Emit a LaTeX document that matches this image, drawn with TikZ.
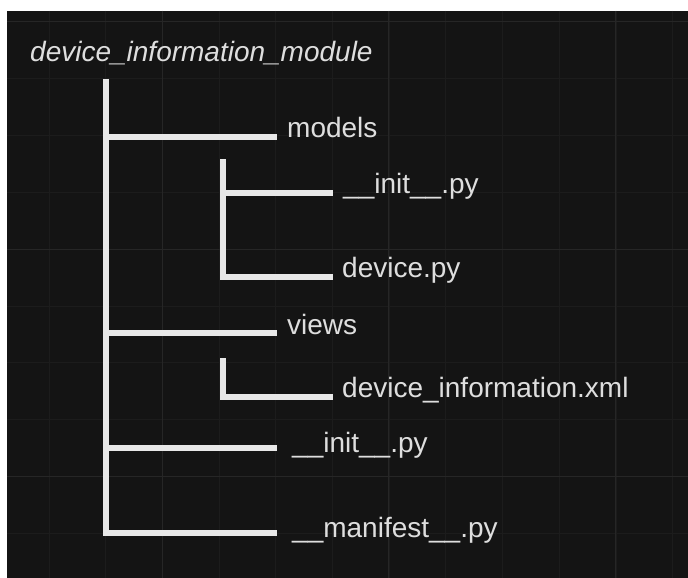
\documentclass[tikz,border=0pt]{standalone}
\usepackage{fontspec}
\setmainfont{Liberation Sans}
\definecolor{bgdark}{HTML}{141414}
\definecolor{gridminor}{HTML}{1C1C1C}
\definecolor{gridmajor}{HTML}{262626}
\definecolor{linecol}{HTML}{E8E8E8}
\definecolor{textcol}{HTML}{DEDEDE}
\tikzset{
  branch/.style={draw=linecol, line width=6pt, line cap=butt, line join=miter},
  label/.style={anchor=base west, inner sep=0pt, text=textcol, font=\fontsize{28}{32}\selectfont},
}
\begin{document}
\begin{tikzpicture}[x=1pt,y=-1pt]
\useasboundingbox (0,0) rectangle (688,578);
\fill[white] (0,0) rectangle (688,578);
\fill[bgdark] (7,11) rectangle (688,578);
\begin{scope}
\clip (7,11) rectangle (688,578);
\foreach \k in {0,...,11} {
  \pgfmathsetmacro{\gx}{49+56.7*\k}
  \draw[gridminor, line width=1pt] (\gx,11) -- (\gx,578);
}
\foreach \k in {0,...,9} {
  \pgfmathsetmacro{\gy}{22+56.8*\k}
  \draw[gridminor, line width=1pt] (7,\gy) -- (688,\gy);
}
\foreach \gx in {162,388.7,615.5} \draw[gridmajor, line width=1pt] (\gx,11) -- (\gx,578);
\foreach \gy in {22,249.2,476.4} \draw[gridmajor, line width=1pt] (7,\gy) -- (688,\gy);
\end{scope}

% texts
\node[label, font=\fontsize{28}{32}\selectfont\itshape] (root) at (30,62) {device\_information\_module};
\node[label] (models) at (287,137) {models};
\node[label] (minit) at (343,193) {\_\_init\_\_.py};
\node[label] (device) at (342,277) {device.py};
\node[label] (views) at (287,334) {views};
\node[label] (dxml) at (342,397) {device\_information.xml};
\node[label] (rinit) at (292,452) {\_\_init\_\_.py};
\node[label] (manifest) at (292,537) {\_\_manifest\_\_.py};

% coordinates for connectors
\coordinate (trunktop) at (106,79);
\coordinate (jmodels) at (106,136.5);
\coordinate (jviews) at (106,333);
\coordinate (jrinit) at (106,448);
\coordinate (emodels) at (277,136.5);
\coordinate (eviews) at (277,333);
\coordinate (erinit) at (277,448);
\coordinate (emanifest) at (277,533);
\coordinate (subtop) at (223,159);
\coordinate (jminit) at (223,193);
\coordinate (eminit) at (333,193);
\coordinate (edevice) at (333,277);
\coordinate (vsubtop) at (223,358);
\coordinate (edxml) at (333,397);

\draw[branch] (trunktop) |- (emanifest);
\draw[branch] (jmodels) -- (emodels);
\draw[branch] (jviews) -- (eviews);
\draw[branch] (jrinit) -- (erinit);
\draw[branch] (subtop) |- (edevice);
\draw[branch] (jminit) -- (eminit);
\draw[branch] (vsubtop) |- (edxml);
\end{tikzpicture}
\end{document}
